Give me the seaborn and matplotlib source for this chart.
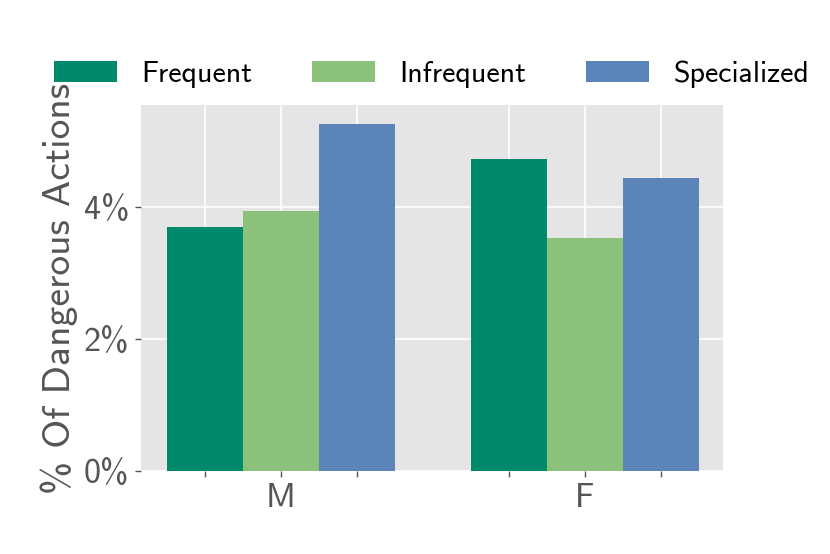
import matplotlib
matplotlib.use("Agg")
import matplotlib.pyplot as plt
import seaborn as sns
import pandas as pd
from matplotlib.ticker import FuncFormatter

genders = ["M", "F"]
groups = ["Frequent", "Infrequent", "Specialized"]
frequent = [3.70, 4.73]
infrequent = [3.94, 3.53]
specialized = [5.27, 4.44]
colors = ["#008A6B", "#8BC17A", "#5B84B8"]

rows = []
for g, vals in zip(groups, [frequent, infrequent, specialized]):
    for gen, v in zip(genders, vals):
        rows.append({"Gender": gen, "Group": g, "Pct": v})
df = pd.DataFrame(rows)

sns.set_theme(style="darkgrid", rc={
    "axes.facecolor": "#E5E5E5",
    "grid.color": "white",
    "grid.linewidth": 1.2,
    "axes.edgecolor": "white",
})
plt.rcParams["font.family"] = ["cmss10", "DejaVu Sans"]
plt.rcParams["axes.unicode_minus"] = False

fig = plt.figure(figsize=(8.3, 5.54), dpi=100)
ax = fig.add_axes([0.170, 0.150, 0.701, 0.660])

sns.barplot(data=df, x="Gender", y="Pct", hue="Group", order=genders,
            hue_order=groups, palette=colors, width=0.75, saturation=1,
            linewidth=0, ax=ax, legend=True)

w = 0.25
ticks = []
labels = []
for i, gen in enumerate(genders):
    for j in range(3):
        ticks.append(i + (j - 1) * w)
        labels.append(gen if j == 1 else "")
ax.set_xticks(ticks)
ax.set_xticklabels(labels)
ax.set_xlim(-0.46, 1.454)
ax.set_ylim(0, 5.55)
ax.set_yticks([0, 2, 4])
ax.yaxis.set_major_formatter(FuncFormatter(lambda v, p: f"{v:.0f}%"))
ax.tick_params(axis="both", which="major", labelsize=24.5, colors="#555555",
               length=4, width=1, direction="out", pad=4.5,
               bottom=True, left=True)
for lab in ax.get_xticklabels() + ax.get_yticklabels():
    lab.set_color("#555555")
ax.set_xlabel("")
ax.set_ylabel("% Of Dangerous Actions", fontsize=28.5, color="#555555", labelpad=4.5)
ax.grid(True, axis="both", color="white", linewidth=1.2)
ax.set_axisbelow(True)
for s in ax.spines.values():
    s.set_visible(False)

handles, lbls = ax.get_legend_handles_labels()
ax.legend_.remove()
fig.legend(handles, lbls, loc="center", bbox_to_anchor=(0.52, 0.866), ncol=3,
           frameon=False, fontsize=21.6, handlelength=2.1, handleheight=0.7,
           handletextpad=0.8, columnspacing=2.0, labelcolor="black")

fig.savefig("out.png", dpi=100)
